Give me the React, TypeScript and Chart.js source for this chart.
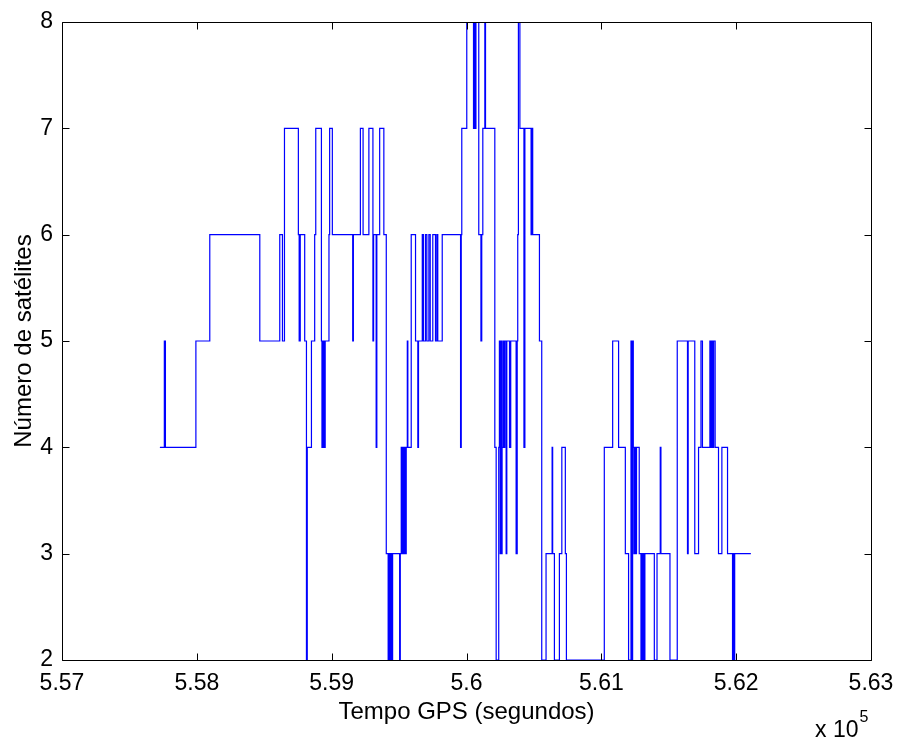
import React, { useEffect, useRef } from 'react';
import { Chart, registerables } from 'chart.js';

Chart.register(...registerables);

// GPS time (s) at which the satellite count changes, and the new count
const gpsTime = [
  557726, 557759, 557767, 557993, 558096, 558467, 558615, 558635, 558650, 558753,
  558759, 558767, 558800, 558813, 558819, 558850, 558874, 558882, 558924, 558928,
  558935, 558944, 558952, 558980, 558985, 559005, 559156, 559161, 559213, 559233,
  559276, 559306, 559311, 559330, 559335, 559356, 559387, 559405, 559419, 559426,
  559433, 559439, 559444, 559452, 559504, 559509, 559516, 559522, 559528, 559536,
  559541, 559548, 559553, 559561, 559565, 559590, 559622, 559639, 559644, 559672,
  559681, 559696, 559706, 559721, 559731, 559750, 559770, 559780, 559787, 559820,
  559956, 559961, 559965, 560002, 560052, 560059, 560065, 560070, 560091, 560107,
  560113, 560121, 560136, 560141, 560210, 560220, 560239, 560244, 560250, 560254,
  560259, 560264, 560269, 560278, 560284, 560294, 560299, 560319, 560328, 560368,
  560376, 560380, 560385, 560396, 560426, 560433, 560479, 560484, 560491, 560541,
  560558, 560590, 560635, 560639, 560652, 560689, 560707, 560733, 560741, 561022,
  561084, 561128, 561178, 561202, 561220, 561224, 561232, 561237, 561242, 561247,
  561256, 561261, 561281, 561294, 561299, 561306, 561311, 561319, 561323, 561393,
  561413, 561437, 561442, 561509, 561563, 561639, 561644, 561693, 561721, 561739,
  561750, 561805, 561811, 561819, 561824, 561833, 561844, 561869, 561894, 561936,
  561973, 561980, 561985, 561989, 562109,
];

const satCount = [
  4, 5, 4, 5, 6, 5, 6, 5, 7, 6,
  5, 6, 5, 2, 4, 5, 6, 7, 5, 4,
  5, 4, 5, 6, 7, 6, 5, 6, 7, 6,
  7, 5, 6, 4, 6, 7, 6, 3, 2, 3,
  2, 3, 2, 3, 2, 3, 4, 3, 4, 3,
  4, 3, 4, 5, 4, 6, 5, 4, 5, 6,
  5, 6, 5, 6, 5, 6, 5, 6, 5, 6,
  4, 6, 7, 8, 7, 8, 7, 8, 6, 5,
  6, 7, 8, 7, 4, 2, 4, 5, 3, 5,
  3, 4, 5, 4, 5, 3, 5, 4, 5, 3,
  5, 6, 8, 7, 4, 7, 6, 7, 6, 5,
  2, 3, 4, 3, 2, 3, 4, 3, 2, 4,
  5, 4, 3, 2, 5, 2, 5, 4, 3, 4,
  3, 4, 3, 2, 3, 2, 3, 2, 3, 2,
  3, 4, 3, 2, 5, 3, 5, 3, 4, 5,
  4, 5, 4, 5, 4, 5, 4, 3, 4, 3,
  2, 3, 2, 3, 3,
];

const xMin = 557000;
const xMax = 563000;
const xStep = 1000;
const yMin = 2;
const yMax = 8;
const yStep = 1;
const xScaleFactor = 1e5;
const xTitle = 'Tempo GPS (segundos)';
const yTitle = 'Número de satélites';
const exponentBase = 'x 10';
const exponentPower = '5';

const FONT = '"Liberation Sans", Arial, Helvetica, sans-serif';

const matlabBox = {
  id: 'matlabBox',
  afterDatasetsDraw(chart: any) {
    const { ctx, chartArea, scales } = chart;
    const { left, right, top, bottom } = chartArea;
    const L = Math.round(left) + 0.5;
    const R = Math.round(right) + 0.5;
    const T = Math.round(top) + 0.5;
    const B = Math.round(bottom) + 0.5;
    const tl = 7;
    ctx.save();
    ctx.strokeStyle = '#000';
    ctx.lineWidth = 1;
    ctx.beginPath();
    ctx.rect(L, T, R - L, B - T);
    ctx.stroke();
    ctx.beginPath();
    scales.x.ticks.forEach((t: any) => {
      const px = Math.round(scales.x.getPixelForValue(t.value)) + 0.5;
      ctx.moveTo(px, B);
      ctx.lineTo(px, B - tl);
      ctx.moveTo(px, T);
      ctx.lineTo(px, T + tl);
    });
    scales.y.ticks.forEach((t: any) => {
      const py = Math.round(scales.y.getPixelForValue(t.value)) + 0.5;
      ctx.moveTo(L, py);
      ctx.lineTo(L + tl, py);
      ctx.moveTo(R, py);
      ctx.lineTo(R - tl, py);
    });
    ctx.stroke();

    // exponent label
    ctx.fillStyle = '#000';
    ctx.textAlign = 'left';
    ctx.textBaseline = 'alphabetic';
    ctx.font = `23px ${FONT}`;
    const ex = right - 56;
    const ey = chart.height - 2;
    ctx.fillText(exponentBase, ex, ey);
    const w = ctx.measureText(exponentBase).width;
    ctx.font = `16px ${FONT}`;
    ctx.fillText(exponentPower, ex + w + 1, ey - 15);
    ctx.restore();
  },
};

export default function App() {
  const ref = useRef<HTMLCanvasElement | null>(null);

  useEffect(() => {
    if (!ref.current) return;
    const points = gpsTime.map((t, i) => ({ x: t, y: satCount[i] }));
    const chart = new Chart(ref.current, {
      type: 'line',
      data: {
        datasets: [
          {
            data: points,
            borderColor: '#0000ff',
            borderWidth: 1.2,
            pointRadius: 0,
            stepped: true,
            fill: false,
            tension: 0,
          },
        ],
      },
      options: {
        responsive: false,
        animation: false,
        events: [],
        layout: { padding: { left: 0, right: 28, top: 22, bottom: 0 } },
        plugins: {
          legend: { display: false },
          tooltip: { enabled: false },
        },
        scales: {
          x: {
            type: 'linear',
            min: xMin,
            max: xMax,
            grid: { display: false, drawTicks: false },
            border: { display: false },
            ticks: {
              stepSize: xStep,
              padding: 10,
              color: '#000',
              maxRotation: 0,
              autoSkip: false,
              font: { family: FONT, size: 23 },
              callback: (v: any) => String(Number((Number(v) / xScaleFactor).toFixed(2))),
            },
            title: {
              display: true,
              text: xTitle,
              color: '#000',
              font: { family: FONT, size: 24 },
              padding: { top: 0, bottom: 12 },
            },
            afterFit: (s: any) => {
              s.height = 79;
              s.paddingLeft = 0;
              s.paddingRight = 0;
            },
          },
          y: {
            type: 'linear',
            min: yMin,
            max: yMax,
            grid: { display: false, drawTicks: false },
            border: { display: false },
            ticks: {
              stepSize: yStep,
              padding: 9,
              color: '#000',
              font: { family: FONT, size: 23 },
            },
            title: {
              display: true,
              text: yTitle,
              color: '#000',
              font: { family: FONT, size: 24 },
              padding: { top: 10, bottom: 0 },
            },
            afterFit: (s: any) => {
              s.width = 62;
              s.paddingTop = 0;
              s.paddingBottom = 0;
            },
          },
        },
      },
      plugins: [matlabBox],
    });
    return () => chart.destroy();
  }, []);

  return (
    <div style={{ position: 'absolute', left: 0, top: 0, width: 899, height: 739, background: '#fff' }}>
      <canvas ref={ref} width={899} height={739} style={{ display: 'block' }} />
    </div>
  );
}
